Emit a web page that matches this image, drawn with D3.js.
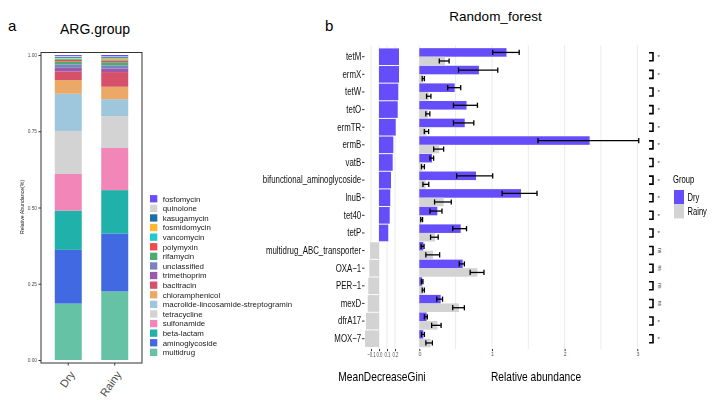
<!DOCTYPE html>
<html><head><meta charset="utf-8">
<script src="https://cdn.jsdelivr.net/npm/d3@7"></script>
<style>
body{margin:0;background:#fff;}
svg{display:block;}
.a{font-family:'Liberation Sans',Arial,sans-serif;}
</style></head>
<body>
<script>
// ---------- Panel a data ----------
const groups = ["Dry", "Rainy"];
const argTypes = ["multidrug","aminoglycoside","beta-lactam","sulfonamide","tetracycline",
  "macrolide-lincosamide-streptogramin","chloramphenicol","bacitracin","trimethoprim",
  "unclassified","rifamycin","polymyxin","vancomycin","fosmidomycin","kasugamycin","quinolone","fosfomycin"];
const argColors = ["#66c2a5","#4169e1","#20b2aa","#f386b8","#d3d3d3",
  "#9ec6dc","#eba866","#d6506a","#9b59ab",
  "#7b82c0","#4eab75","#f04a4a","#1ccbd0","#ffb732","#1f6ea6","#d3d3d3","#6a4cff"];
const dryShare   = [0.185,0.176,0.129,0.120,0.141,0.122,0.045,0.028,0.012,0.011,0.010,0.005,0.004,0.003,0.003,0.003,0.003];
const rainyShare = [0.225,0.190,0.142,0.138,0.105,0.055,0.041,0.048,0.012,0.010,0.010,0.006,0.004,0.004,0.003,0.003,0.004];
const yTicksA = [0, 0.25, 0.5, 0.75, 1];

// ---------- Panel b data ----------
const genes = ["tetM","ermX","tetW","tetO","ermTR","ermB","vatB","bifunctional_aminoglycoside ","lnuB","tet40","tetP",
  "multidrug_ABC_transporter","OXA\u22121","PER\u22121","mexD","dfrA17","MOX\u22127"];
const gini = [0.25,0.25,0.241,0.234,0.209,0.179,0.171,0.15,0.141,0.134,0.116,-0.112,-0.121,-0.134,-0.141,-0.163,-0.175];
const dryMean = [1.20,0.82,0.487,0.65,0.625,2.344,0.175,0.78,1.40,0.248,0.57,0.055,0.597,0.04,0.294,0.10,0.055];
const dryLo   = [1.01,0.54,0.39,0.47,0.47,1.633,0.147,0.514,1.14,0.147,0.46,0.025,0.55,0.03,0.24,0.07,0.03];
const dryHi   = [1.375,1.08,0.57,0.80,0.75,3.02,0.197,1.01,1.62,0.312,0.65,0.065,0.62,0.05,0.32,0.11,0.07];
const rainyMean = [0.353,0.055,0.13,0.12,0.10,0.275,0.045,0.09,0.335,0.03,0.215,0.19,0.80,0.055,0.546,0.25,0.155];
const rainyLo   = [0.275,0.04,0.10,0.09,0.069,0.198,0.03,0.05,0.21,0.02,0.155,0.09,0.70,0.04,0.46,0.17,0.09];
const rainyHi   = [0.41,0.07,0.16,0.145,0.128,0.335,0.07,0.13,0.44,0.045,0.26,0.28,0.89,0.07,0.62,0.30,0.18];
const signif = ["*","*","*","*","*","*","*","*","*","*","*","ns","ns","ns","ns","*","*"];
const giniTicks = [-0.1, 0, 0.1, 0.2];
const abundTicks = [0, 1, 2, 3];
const abundGrid = [0, 0.5, 1, 1.5, 2, 2.5, 3];
const groupColors = ["#664dfa", "#d3d3d3"];

const svg = d3.select("body").append("svg").attr("width", 712).attr("height", 400);
const NARROW = 0.75;
// grayscale filter to avoid coloured fringes on small / compressed text
svg.append("defs").append("filter").attr("id", "gray")
  .append("feColorMatrix").attr("type", "saturate").attr("values", 0);

// ================= Panel a =================
const A = svg.append("g");
const yA = d3.scaleLinear([0, 1], [360, 55]);
const xA = d3.scaleBand(groups, [41, 142]).paddingInner(0.419).paddingOuter(0.296);
const rows = groups.map((g, gi) => {
  const o = {group: g};
  argTypes.forEach((t, i) => o[t] = (gi === 0 ? dryShare : rainyShare)[i]);
  return o;
});
const stack = d3.stack().keys(argTypes)(rows);
const color = d3.scaleOrdinal(argTypes, argColors);
A.selectAll("g.layer").data(stack).join("g").attr("fill", d => color(d.key))
  .selectAll("rect").data(d => d).join("rect")
  .attr("x", d => xA(d.data.group)).attr("width", xA.bandwidth())
  .attr("y", d => yA(d[1])).attr("height", d => yA(d[0]) - yA(d[1]));
A.append("rect").attr("x", 41).attr("y", 52.5).attr("width", 101).attr("height", 310.5)
  .attr("fill", "none").attr("stroke", "#333").attr("stroke-width", 1);
const yAx = A.append("g").attr("transform", "translate(41,0)").attr("filter", "url(#gray)")
  .call(d3.axisLeft(yA).tickValues(yTicksA).tickFormat(d3.format(".2f")).tickSize(2.5).tickPadding(1.5));
yAx.select(".domain").remove();
yAx.selectAll("line").attr("stroke", "#333");
yAx.selectAll("text").attr("class", "a").attr("font-size", 4.8).attr("fill", "#4d4d4d");
const xAx = A.append("g").attr("transform", "translate(0,363)")
  .call(d3.axisBottom(xA).tickSize(2.5).tickPadding(0));
xAx.select(".domain").remove();
xAx.selectAll("line").attr("stroke", "#333");
xAx.selectAll("text").attr("class", "a").attr("font-size", 11).attr("fill", "#4d4d4d")
  .attr("text-anchor", "end").attr("dy", 0)
  .attr("transform", "translate(5,10) rotate(-55)");
A.append("text").attr("class", "a").attr("font-size", 5.2).attr("fill", "#222")
  .attr("filter", "url(#gray)")
  .attr("text-anchor", "middle").attr("transform", "translate(24,207) rotate(-90)")
  .text("Relative Abundance(%)");
A.append("text").attr("class", "a").attr("font-size", 14).attr("x", 95).attr("y", 34)
  .attr("text-anchor", "middle").text("ARG.group");
A.append("text").attr("class", "a").attr("font-size", 15).attr("x", 8).attr("y", 31).text("a");
// legend
const legOrder = argTypes.slice().reverse();
const legY = d3.scaleBand(legOrder, [194.5, 357.7]);
const leg = A.selectAll("g.leg").data(legOrder).join("g")
  .attr("transform", d => `translate(150,${legY(d)})`);
leg.append("rect").attr("width", 7.3).attr("height", 7.3).attr("y", 0.6).attr("fill", d => color(d));
leg.append("text").attr("class", "a").attr("x", 12.7).attr("y", 7).attr("font-size", 7.9)
  .attr("filter", "url(#gray)")
  .attr("fill", "#1a1a1a").text(d => d);

// ================= Panel b =================
const B = svg.append("g");
const yB = d3.scaleBand(genes, [47.9, 347.5]);
const step = yB.step();
const xG = d3.scaleLinear([-0.1, 0.2], [371, 395]);
const xM = d3.scaleLinear([0, 3], [419.3, 637.3]);

// gridlines
B.selectAll("line.gg").data(giniTicks).join("line")
  .attr("x1", d => xG(d)).attr("x2", d => xG(d)).attr("y1", 45).attr("y2", 349)
  .attr("stroke", "#ebebeb").attr("stroke-width", 1);
B.selectAll("line.mg").data(abundGrid).join("line")
  .attr("x1", d => xM(d)).attr("x2", d => xM(d)).attr("y1", 45).attr("y2", 349)
  .attr("stroke", "#ebebeb").attr("stroke-width", 1);

// gini bars
B.selectAll("rect.gini").data(genes).join("rect")
  .attr("x", (d, i) => Math.min(xG(0), xG(gini[i])))
  .attr("width", (d, i) => Math.abs(xG(gini[i]) - xG(0)))
  .attr("y", d => yB(d) + 0.5).attr("height", step - 1)
  .attr("fill", (d, i) => gini[i] >= 0 ? groupColors[0] : groupColors[1]);

// abundance bars
const sub = d3.scaleBand(groups, [0, step]).paddingOuter(0.03);
const bars = [];
genes.forEach((g, i) => {
  bars.push({gene: g, group: "Dry", v: dryMean[i], lo: dryLo[i], hi: dryHi[i]});
  bars.push({gene: g, group: "Rainy", v: rainyMean[i], lo: rainyLo[i], hi: rainyHi[i]});
});
const gcol = d3.scaleOrdinal(groups, groupColors);
B.selectAll("rect.ab").data(bars).join("rect")
  .attr("x", xM(0)).attr("width", d => xM(d.v) - xM(0))
  .attr("y", d => yB(d.gene) + sub(d.group)).attr("height", sub.bandwidth())
  .attr("fill", d => gcol(d.group));
const eb = B.selectAll("g.eb").data(bars).join("g")
  .attr("transform", d => `translate(0,${yB(d.gene) + sub(d.group) + sub.bandwidth() / 2})`)
  .attr("stroke", "#000").attr("stroke-width", 1.3);
eb.append("line").attr("x1", d => xM(d.lo)).attr("x2", d => xM(d.hi));
eb.append("line").attr("x1", d => xM(d.lo)).attr("x2", d => xM(d.lo)).attr("y1", -2.6).attr("y2", 2.6);
eb.append("line").attr("x1", d => xM(d.hi)).attr("x2", d => xM(d.hi)).attr("y1", -2.6).attr("y2", 2.6);

// y labels (narrow)
const yBx = B.append("g").attr("transform", "translate(364.5,0)").attr("filter", "url(#gray)")
  .call(d3.axisLeft(yB).tickSize(2.5).tickPadding(0.8));
yBx.select(".domain").remove();
yBx.selectAll("line").attr("stroke", "#333");
yBx.selectAll("text").attr("class", "a").attr("font-size", 10.5).attr("fill", "#111")
  .attr("x", -3.3 / NARROW).attr("transform", `scale(${NARROW},1)`);

// x axes
const gAx = B.append("g").attr("transform", "translate(0,349)").attr("filter", "url(#gray)")
  .call(d3.axisBottom(xG).tickValues(giniTicks).tickFormat(d3.format(".1f")).tickSize(2.2).tickPadding(1));
gAx.select(".domain").remove();
gAx.selectAll("line").attr("stroke", "#333");
gAx.selectAll("text").attr("class", "a").attr("font-size", 7).attr("fill", "#4d4d4d")
  .attr("transform", "scale(0.62,1)");
const mAx = B.append("g").attr("transform", "translate(0,349)")
  .call(d3.axisBottom(xM).tickValues(abundTicks).tickFormat(d3.format("d")).tickSize(2.2).tickPadding(1));
mAx.select(".domain").remove();
mAx.selectAll("line").attr("stroke", "#333");
mAx.selectAll("text").attr("class", "a").attr("font-size", 5).attr("fill", "#4d4d4d");

// significance
const sg = B.selectAll("g.sig").data(genes).join("g")
  .attr("transform", d => `translate(0,${yB(d) + step / 2})`);
sg.append("path").attr("d", "M649,-4H653V4H649").attr("fill", "none")
  .attr("stroke", "#000").attr("stroke-width", 1.6);
sg.append("text").attr("class", "a")
  .attr("transform", (d, i) => signif[i] === "ns" ? "translate(657,0) rotate(90)" : "translate(657.5,2.5)")
  .attr("text-anchor", (d, i) => signif[i] === "ns" ? "middle" : "start")
  .attr("font-size", (d, i) => signif[i] === "ns" ? 5 : 6)
  .attr("dy", (d, i) => signif[i] === "ns" ? -1 : 0)
  .attr("fill", "#333")
  .text((d, i) => signif[i]);

// titles
const T = B.append("g").attr("filter", "url(#gray)");
T.append("text").attr("class", "a").attr("font-size", 12.6)
  .attr("transform", "translate(382,381) scale(0.81,1)")
  .attr("text-anchor", "middle").text("MeanDecreaseGini");
T.append("text").attr("class", "a").attr("font-size", 12.6)
  .attr("transform", "translate(536,381) scale(0.81,1)")
  .attr("text-anchor", "middle").text("Relative abundance");
B.append("text").attr("class", "a").attr("font-size", 13.5).attr("x", 495.5).attr("y", 21)
  .attr("text-anchor", "middle").text("Random_forest");
B.append("text").attr("class", "a").attr("font-size", 15).attr("x", 325).attr("y", 31).text("b");

// group legend
const L = B.append("g").attr("transform", "translate(673,0)");
L.append("text").attr("class", "a").attr("font-size", 10).attr("filter", "url(#gray)")
  .attr("transform", "translate(0,183) scale(0.76,1)").text("Group");
const gl = L.selectAll("g.gl").data(groups).join("g")
  .attr("transform", (d, i) => `translate(1,${190 + i * 14.2})`);
gl.append("rect").attr("width", 10).attr("height", 14.2).attr("fill", d => gcol(d));
gl.append("text").attr("class", "a").attr("font-size", 10).attr("filter", "url(#gray)")
  .attr("transform", "translate(13.5,10.5) scale(0.76,1)").text(d => d);
</script>
</body></html>
